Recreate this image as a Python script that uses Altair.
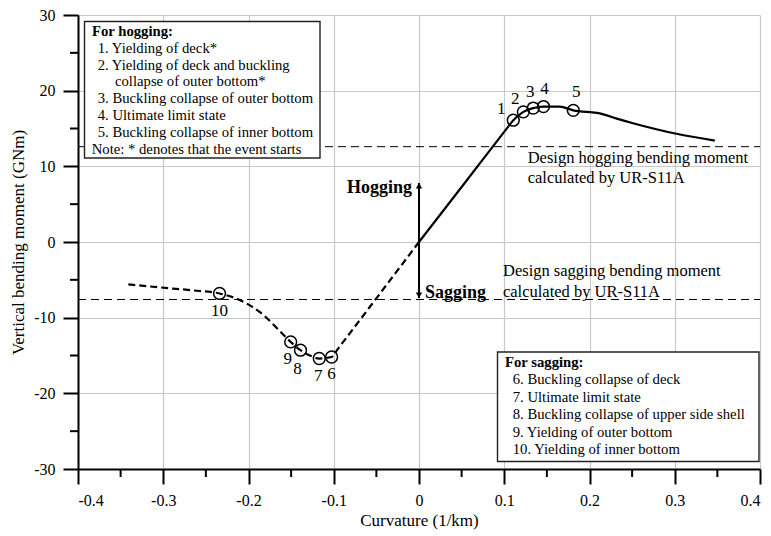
import altair as alt
import pandas as pd

# Hogging branch of the moment-curvature curve (solid)
hog_curv = [0.0, 0.055, 0.104, 0.1106, 0.1224, 0.134, 0.146, 0.165, 0.181, 0.212, 0.232, 0.251, 0.302, 0.347]
hog_mom = [0.0, 8.0, 15.15, 16.1, 17.2, 17.7, 17.9, 17.9, 17.4, 17.0, 16.3, 15.7, 14.3, 13.4]

# Sagging branch (dashed)
sag_curv = [-0.341, -0.304, -0.265, -0.234, -0.206, -0.183, -0.163, -0.1505, -0.139, -0.128, -0.117,
            -0.1025, -0.096, -0.0457, 0.0]
sag_mom = [-5.6, -6.0, -6.4, -6.8, -7.9, -9.6, -11.8, -13.2, -14.3, -15.0, -15.4,
           -15.2, -14.25, -6.8, 0.0]

# Failure events 1-10
ev_id = ["1", "2", "3", "4", "5", "6", "7", "8", "9", "10"]
ev_curv = [0.1106, 0.1224, 0.134, 0.146, 0.181, -0.1025, -0.117, -0.139, -0.1505, -0.234]
ev_mom = [16.1, 17.2, 17.7, 17.9, 17.4, -15.2, -15.4, -14.3, -13.2, -6.8]

# Design bending moments by UR-S11A
design_hog = 12.6
design_sag = -7.6

# Axis ticks
x_major = [-0.4, -0.3, -0.2, -0.1, 0.0, 0.1, 0.2, 0.3, 0.4]
x_minor = [-0.35, -0.25, -0.15, -0.05, 0.05, 0.15, 0.25, 0.35]
y_major = [-30, -20, -10, 0, 10, 20, 30]
y_minor = [-25, -15, -5, 5, 15, 25]

hog_legend = [
    "1. Yielding of deck*",
    "2. Yielding of deck and buckling",
    "collapse of outer bottom*",
    "3. Buckling collapse of outer bottom",
    "4. Ultimate limit state",
    "5. Buckling collapse of inner bottom",
    "Note: * denotes that the event starts",
]
sag_legend = [
    "6. Buckling collapse of deck",
    "7. Ultimate limit state",
    "8. Buckling collapse of upper side shell",
    "9. Yielding of outer bottom",
    "10. Yielding of inner bottom",
]

FONT = "Liberation Serif"
W, H = 682, 454

xs = alt.Scale(domain=[-0.4, 0.4], nice=False, zero=False)
ys = alt.Scale(domain=[-30, 30], nice=False, zero=False)

x_axis = alt.Axis(
    values=x_major, title="Curvature (1/km)", grid=True, tickSize=15,
    labelExpr="datum.value == 0 ? '0' : (datum.value < 0 ? '-' : '') + format(abs(datum.value), '.1f')",
    labelPadding=8, titlePadding=4,
)
y_axis = alt.Axis(
    values=y_major, title="Vertical bending moment (GNm)", grid=True, tickSize=15,
    labelExpr="(datum.value < 0 ? '-' : '') + format(abs(datum.value), 'd')",
    labelPadding=8, titlePadding=6,
)


def X(field):
    return alt.X(field, scale=xs, axis=x_axis)


def Y(field):
    return alt.Y(field, scale=ys, axis=y_axis)


hog_df = pd.DataFrame({"c": hog_curv, "m": hog_mom})
sag_df = pd.DataFrame({"c": sag_curv, "m": sag_mom})
ev_df = pd.DataFrame({"id": ev_id, "c": ev_curv, "m": ev_mom})

hog_line = alt.Chart(hog_df).mark_line(color="black", strokeWidth=2.2, interpolate="monotone").encode(
    x=X("c:Q"), y=Y("m:Q"),
)
sag_line = alt.Chart(sag_df).mark_line(
    color="black", strokeWidth=2.2, strokeDash=[7, 4], interpolate="monotone"
).encode(x=X("c:Q"), y=Y("m:Q"))

design_df = pd.DataFrame({"c": [-0.4, 0.4, -0.4, 0.4], "m": [design_hog, design_hog, design_sag, design_sag],
                          "k": ["h", "h", "s", "s"]})
design_lines = alt.Chart(design_df).mark_line(color="black", strokeWidth=1, strokeDash=[8, 5]).encode(
    x=X("c:Q"), y=Y("m:Q"), detail="k:N",
)

events = alt.Chart(ev_df).mark_point(
    shape="circle", filled=False, color="black", size=140, strokeWidth=1.5, opacity=1
).encode(x=X("c:Q"), y=Y("m:Q"))

# label offsets (px) around each event circle
label_off = {"1": (-12, -11), "2": (-8, -13), "3": (-3, -16), "4": (1, -18), "5": (3, -18),
             "6": (0, 17), "7": (-1, 17), "8": (-3, 19), "9": (-3, 17), "10": (0, 18)}
ev_labels = []
for eid, (dx, dy) in label_off.items():
    ev_labels.append(
        alt.Chart(ev_df[ev_df["id"] == eid]).mark_text(
            font=FONT, fontSize=17, color="black", dx=dx, dy=dy, baseline="middle", align="center"
        ).encode(x=X("c:Q"), y=Y("m:Q"), text="id:N")
    )

# hogging / sagging double arrow at zero curvature
arrow_df = pd.DataFrame({"c": [0.0], "lo": [-7.4], "hi": [7.8]})
arrow_shaft = alt.Chart(arrow_df).mark_rule(color="black", strokeWidth=2).encode(
    x=X("c:Q"), y=Y("lo:Q"), y2="hi:Q",
)
head_up = alt.Chart(arrow_df).mark_point(
    shape="triangle-up", filled=True, color="black", size=40, opacity=1, yOffset=2.7
).encode(x=X("c:Q"), y=Y("hi:Q"))
head_dn = alt.Chart(arrow_df).mark_point(
    shape="triangle-down", filled=True, color="black", size=40, opacity=1, yOffset=-2.7
).encode(x=X("c:Q"), y=Y("lo:Q"))

word_df = pd.DataFrame({"c": [0.0, 0.0], "m": [7.1, -6.8], "t": ["Hogging", "Sagging"]})
hog_word = alt.Chart(word_df.iloc[[0]]).mark_text(
    font=FONT, fontSize=18, fontWeight="bold", align="right", baseline="middle", dx=-7, color="black"
).encode(x=X("c:Q"), y=Y("m:Q"), text="t:N")
sag_word = alt.Chart(word_df.iloc[[1]]).mark_text(
    font=FONT, fontSize=18, fontWeight="bold", align="left", baseline="middle", dx=6, color="black"
).encode(x=X("c:Q"), y=Y("m:Q"), text="t:N")

design_txt_df = pd.DataFrame({
    "c": [0.1275, 0.1275, 0.0985, 0.0985],
    "m": [11.1, 8.45, -3.85, -6.6],
    "t": ["Design hogging bending moment", "calculated by UR-S11A",
          "Design sagging bending moment", "calculated by UR-S11A"],
})
design_txt = alt.Chart(design_txt_df).mark_text(
    font=FONT, fontSize=16.5, align="left", baseline="middle", color="black"
).encode(x=X("c:Q"), y=Y("m:Q"), text="t:N")

# minor ticks on both axes
minor_x = alt.Chart(pd.DataFrame({"c": x_minor})).mark_rule(color="black", strokeWidth=2).encode(
    x=X("c:Q"), y=alt.value(H), y2=alt.value(H + 8)
)
minor_y = alt.Chart(pd.DataFrame({"m": y_minor})).mark_rule(color="black", strokeWidth=2).encode(
    y=Y("m:Q"), x=alt.value(0), x2=alt.value(-8)
)

one = pd.DataFrame({"k": [0]})


def box(x0, y0, x1, y1):
    return alt.Chart(one).mark_rect(fill="white", stroke="#222222", strokeWidth=1.4).encode(
        x=alt.value(x0), x2=alt.value(x1), y=alt.value(y0), y2=alt.value(y1)
    )


def line_text(t, x, y, bold=False):
    return alt.Chart(pd.DataFrame({"t": [t]})).mark_text(
        font=FONT, fontSize=14.7, fontWeight="bold" if bold else "normal",
        align="left", baseline="middle", color="black"
    ).encode(x=alt.value(x), y=alt.value(y), text="t:N")


legend_layers = [box(6.5, 6.5, 242, 143)]
legend_layers.append(line_text("For hogging:", 14, 17, bold=True))
hog_x = [19.7, 19.7, 37, 19.7, 19.7, 19.7, 13.7]
for i, t in enumerate(hog_legend):
    legend_layers.append(line_text(t, hog_x[i], 17 + 16.8 * (i + 1)))

legend_layers.append(box(419.5, 337, 681, 446.5))
legend_layers.append(line_text("For sagging:", 427, 347.5, bold=True))
for i, t in enumerate(sag_legend):
    legend_layers.append(line_text(t, 434.7, 365 + 17.5 * i))

chart = alt.layer(
    hog_line, sag_line, design_lines, minor_x, minor_y,
    arrow_shaft, head_up, head_dn, events, *ev_labels,
    hog_word, sag_word, design_txt, *legend_layers,
).properties(
    width=W, height=H,
    autosize=alt.AutoSizeParams(type="none"),
    padding={"left": 78, "top": 15, "right": 11, "bottom": 67},
    background="white",
).configure_view(
    stroke=None
).configure_axis(
    labelFont=FONT, labelFontSize=16, labelColor="black",
    titleFont=FONT, titleFontSize=17, titleFontWeight="normal", titleColor="black",
    domainColor="black", domainWidth=2, tickColor="black", tickWidth=2,
    gridColor="#c8c8c8", gridWidth=1.2,
)

chart.save("out.html", embed_options={"renderer": "svg", "actions": False})
